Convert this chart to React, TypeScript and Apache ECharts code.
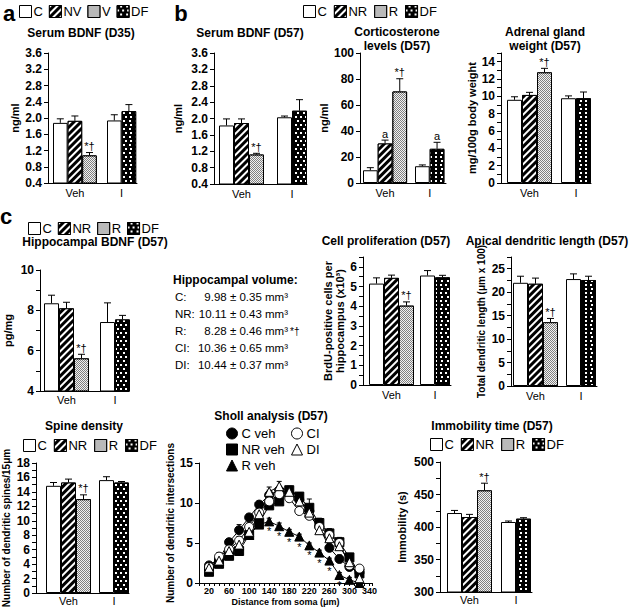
import React, { useEffect, useRef } from 'react';
import * as echarts from 'echarts';

const FONT = "'Liberation Sans', Arial, Helvetica, sans-serif";

// ---------------- categories / legends ----------------
const groupLabels = ['Veh', 'I'];
const legendD35 = ['C', 'NV', 'V', 'DF'];
const legendD57 = ['C', 'NR', 'R', 'DF'];

// Bars ordered: Veh-C, Veh-NR(NV), Veh-R(V), I-C, I-DF
const serumD35Mean = [1.88, 1.93, 1.08, 1.94, 2.17];
const serumD35Sem = [0.1, 0.12, 0.07, 0.14, 0.16];
const serumD35Sig = ['', '', '*†', '', ''];

const serumD57Mean = [1.83, 1.89, 1.12, 2.03, 2.19];
const serumD57Sem = [0.16, 0.1, 0.03, 0.03, 0.27];
const serumD57Sig = ['', '', '*†', '', ''];

const corticoMean = [9.8, 30.4, 70.4, 12.9, 26.3];
const corticoSem = [2.0, 2.6, 9.8, 1.0, 5.0];
const corticoSig = ['', 'a', '*†', '', 'a'];

const adrenalMean = [9.6, 10.16, 12.77, 9.78, 9.78];
const adrenalSem = [0.35, 0.3, 0.46, 0.27, 0.72];
const adrenalSig = ['', '', '*†', '', ''];

const hippBdnfMean = [8.35, 8.1, 5.62, 7.42, 7.55];
const hippBdnfSem = [0.4, 0.3, 0.2, 0.95, 0.2];
const hippBdnfSig = ['', '', '*†', '', ''];

const prolifMean = [5.15, 5.44, 4.03, 5.56, 5.47];
const prolifSem = [0.29, 0.14, 0.19, 0.25, 0.1];
const prolifSig = ['', '', '*†', '', ''];

const apicalMean = [22.0, 21.8, 13.6, 22.8, 22.6];
const apicalSem = [1.4, 1.2, 0.8, 1.1, 0.8];
const apicalSig = ['', '', '*†', '', ''];

const spineMean = [14.84, 15.3, 12.99, 15.63, 15.3];
const spineSem = [0.46, 0.47, 0.6, 0.47, 0.14];
const spineSig = ['', '', '*†', '', ''];

const immobMean = [421.5, 415.4, 456.4, 407.7, 412.8];
const immobSem = [4, 4, 11, 1.5, 1.5];
const immobSig = ['', '', '*†', '', ''];

// Hippocampal volume table
const volLabels = ['C:', 'NR:', 'R:', 'CI:', 'DI:'];
const volMeans = [9.98, 10.11, 8.28, 10.36, 10.44];
const volSems = [0.35, 0.43, 0.46, 0.65, 0.37];
const volSig = ['', '', '*†', '', ''];

// Sholl analysis
const shollDist = [20, 40, 60, 80, 100, 120, 140, 160, 180, 200, 220, 240, 260, 280, 300, 320];
const shollCveh = [2.2, 3.0, 5.1, 6.6, 8.2, 9.8, 11.0, 11.6, 11.2, 10.4, 9.0, 7.0, 4.4, 3.0, 2.0, 1.3];
const shollCvehErr = [0.3, 0.5, 0.4, 0.7, 0.4, 0.4, 0.6, 0.5, 0.5, 0.5, 0.6, 0.5, 0.5, 0.5, 0.5, 0.4];
const shollNRveh = [1.4, 2.4, 3.4, 4.0, 6.0, 7.5, 9.7, 10.2, 11.6, 10.8, 9.4, 7.5, 6.2, 5.1, 3.2, 1.2];
const shollNRvehErr = [0.4, 0.4, 0.4, 0.5, 0.5, 0.5, 0.6, 0.5, 0.5, 0.5, 1.1, 0.6, 0.6, 0.6, 0.5, 0.5];
const shollRveh = [2.0, 2.8, 3.6, 4.6, 6.0, 7.3, 7.7, 7.1, 6.4, 5.8, 4.7, 3.8, 2.8, 1.0, 0.4, 0.0];
const shollRvehErr = [0.3, 0.4, 0.3, 0.4, 0.4, 0.4, 0.4, 0.4, 0.3, 0.3, 0.3, 0.3, 0.3, 0.3, 0.3, 0.2];
const shollRvehSig = ['', '', '', '', '', '', '*', '*', '*', '*', '*', '*', '*', '*', '', ''];
const shollCI = [2.0, 3.3, 4.2, 5.3, 7.0, 8.8, 10.2, 11.1, 10.6, 9.0, 8.4, 7.0, 6.0, 5.0, 2.2, 1.8];
const shollCIErr = [0.3, 0.5, 0.4, 0.5, 0.5, 0.5, 0.6, 0.6, 0.5, 0.5, 0.5, 0.5, 0.5, 0.6, 0.9, 0.4];
const shollDI = [1.9, 2.8, 4.0, 4.8, 6.4, 8.6, 11.4, 12.1, 11.4, 10.2, 8.8, 6.6, 5.6, 4.6, 2.6, 0.6];
const shollDIErr = [0.3, 0.4, 0.4, 0.4, 0.5, 0.5, 0.6, 0.6, 0.5, 0.5, 0.5, 0.6, 0.5, 0.5, 0.5, 0.4];

// ---------------- styles ----------------
const BAR_STYLES: any[] = [
  { color: '#ffffff', borderColor: '#000', borderWidth: 1 },
  {
    color: '#000000', borderColor: '#000', borderWidth: 1,
    decal: { symbol: 'rect', symbolSize: 1, color: '#ffffff', dashArrayX: [1, 0], dashArrayY: [1.8, 2.7], rotation: -Math.PI / 4 },
  },
  {
    color: '#808080', borderColor: '#000', borderWidth: 1,
    decal: { symbol: 'rect', symbolSize: 1, color: '#f2f2f2', dashArrayX: [[1, 1], [0, 1, 1, 0]], dashArrayY: [1, 0] },
  },
  {
    color: '#000000', borderColor: '#000', borderWidth: 1,
    decal: { symbol: 'rect', symbolSize: 1, color: '#ffffff', dashArrayX: [[1.5, 3], [0, 2.25, 1.5, 0.75]], dashArrayY: [1.5, 1.2] },
  },
];

type Lay = { axisX: number; top: number; bottom: number; right: number; vehStart: number; iStart: number; bw: number; xMargin: number };
type BarPanel = {
  names: string[]; mean: number[]; sem: number[]; sig: string[];
  yMin: number; yMax: number; yStep: number; labelStep: number; digits: number;
  yName: string; nameGap: number; nameSize: number; lay: Lay;
};

const barPanels: BarPanel[] = [
  { names: legendD35, mean: serumD35Mean, sem: serumD35Sem, sig: serumD35Sig, yMin: 0.4, yMax: 3.6, yStep: 0.4, labelStep: 0.4, digits: 1,
    yName: 'ng/ml', nameGap: 27, nameSize: 11, lay: { axisX: 48, top: 53, bottom: 183, right: 137, vehStart: 53, iStart: 107, bw: 14.6, xMargin: 4 } },
  { names: legendD57, mean: serumD57Mean, sem: serumD57Sem, sig: serumD57Sig, yMin: 0.4, yMax: 3.6, yStep: 0.4, labelStep: 0.4, digits: 1,
    yName: 'ng/ml', nameGap: 30, nameSize: 11, lay: { axisX: 214, top: 53, bottom: 184, right: 307, vehStart: 219, iStart: 277, bw: 15, xMargin: 4 } },
  { names: legendD57, mean: corticoMean, sem: corticoSem, sig: corticoSig, yMin: 0, yMax: 100, yStep: 20, labelStep: 20, digits: 0,
    yName: 'ng/ml', nameGap: 25, nameSize: 11, lay: { axisX: 360, top: 53, bottom: 183, right: 446, vehStart: 363, iStart: 415, bw: 14.7, xMargin: 4 } },
  { names: legendD57, mean: adrenalMean, sem: adrenalSem, sig: adrenalSig, yMin: 0, yMax: 15, yStep: 1, labelStep: 2, digits: 0,
    yName: 'mg/100g body weight', nameGap: 20, nameSize: 11, lay: { axisX: 501, top: 53, bottom: 183, right: 591, vehStart: 507, iStart: 561, bw: 15, xMargin: 4 } },
  { names: legendD57, mean: hippBdnfMean, sem: hippBdnfSem, sig: hippBdnfSig, yMin: 4, yMax: 10, yStep: 1, labelStep: 2, digits: 0,
    yName: 'pg/mg', nameGap: 26, nameSize: 11, lay: { axisX: 40, top: 270, bottom: 391, right: 129, vehStart: 44, iStart: 100, bw: 15, xMargin: 3 } },
  { names: legendD57, mean: prolifMean, sem: prolifSem, sig: prolifSig, yMin: 0, yMax: 6.5, yStep: 0.5, labelStep: 1, digits: 0,
    yName: 'BrdU-positive cells per\nhippocampus (x10³)', nameGap: 16, nameSize: 11, lay: { axisX: 363, top: 257, bottom: 385, right: 451, vehStart: 369, iStart: 420, bw: 15, xMargin: 4 } },
  { names: legendD57, mean: apicalMean, sem: apicalSem, sig: apicalSig, yMin: 0, yMax: 27.5, yStep: 2.5, labelStep: 5, digits: 0,
    yName: 'Total dendritic length (μm x 100)', nameGap: 21, nameSize: 10, lay: { axisX: 511, top: 257, bottom: 386, right: 597, vehStart: 513, iStart: 566, bw: 15, xMargin: 4 } },
  { names: legendD57, mean: spineMean, sem: spineSem, sig: spineSig, yMin: 0, yMax: 18, yStep: 1, labelStep: 2, digits: 0,
    yName: 'Number of dendritic spines/15μm', nameGap: 18, nameSize: 10, lay: { axisX: 36, top: 463, bottom: 593, right: 129, vehStart: 46, iStart: 99, bw: 15, xMargin: 2 } },
  { names: legendD57, mean: immobMean, sem: immobSem, sig: immobSig, yMin: 300, yMax: 500, yStep: 25, labelStep: 50, digits: 0,
    yName: 'Immobility (s)', nameGap: 32, nameSize: 11, lay: { axisX: 440, top: 462, bottom: 592, right: 532, vehStart: 447, iStart: 501, bw: 15, xMargin: 2 } },
];

const AX_LINE = { show: true, onZero: false, lineStyle: { color: '#000', width: 1 } };

function isMultiple(v: number, step: number) {
  const r = v / step;
  return Math.abs(r - Math.round(r)) < 1e-6;
}

function txt(x: number, y: number, text: string, size: number, bold: boolean, align = 'center') {
  return {
    type: 'text', x, y, silent: true,
    style: {
      text, fill: '#000', font: `${bold ? 'bold ' : ''}${size}px ${FONT}`,
      align, textAlign: align, verticalAlign: 'middle', textVerticalAlign: 'middle',
    },
  };
}

function errorSeries(gi: number, xs: number[], vals: number[], errs: number[], sig: string[], cap: number, sigFont: number, sigBelow = false) {
  return {
    type: 'custom', xAxisIndex: gi, yAxisIndex: gi, z: 3, silent: true, clip: false,
    data: xs.map((x, i) => [x, vals[i], errs[i]]),
    renderItem: (params: any, api: any) => {
      const i = params.dataIndex;
      const x = api.value(0), v = api.value(1), e = api.value(2);
      const a = api.coord([x, v]);
      const b = api.coord([x, v + e]);
      const ls = { stroke: '#000', lineWidth: 1 };
      const children: any[] = [];
      if (e > 0) {
        children.push({ type: 'line', shape: { x1: a[0], y1: a[1], x2: b[0], y2: b[1] }, style: ls });
        children.push({ type: 'line', shape: { x1: b[0] - cap, y1: b[1], x2: b[0] + cap, y2: b[1] }, style: ls });
      }
      if (sig[i]) {
        children.push({
          type: 'text', x: b[0], y: sigBelow ? a[1] + 10 : b[1] - 1,
          style: { text: sig[i], fill: '#000', font: `${sigFont}px ${FONT}`, align: 'center', verticalAlign: sigBelow ? 'middle' : 'bottom' },
        });
      }
      return { type: 'group', children };
    },
  };
}

function buildOption() {
  const grid: any[] = [];
  const xAxis: any[] = [];
  const yAxis: any[] = [];
  const series: any[] = [];

  barPanels.forEach((p) => {
    const gi = grid.length;
    const L = p.lay;
    const W = L.right - L.axisX;
    grid.push({ left: L.axisX, top: L.top, width: W, height: L.bottom - L.top, outerBoundsMode: 'none', containLabel: false });
    const xs = [
      L.vehStart + L.bw * 0.5, L.vehStart + L.bw * 1.5, L.vehStart + L.bw * 2.5,
      L.iStart + L.bw * 0.5, L.iStart + L.bw * 1.5,
    ].map((v) => v - L.axisX);
    const centers = [L.vehStart + L.bw * 1.5 - L.axisX, L.iStart + L.bw - L.axisX];
    xAxis.push({
      gridIndex: gi, type: 'value', min: 0, max: W,
      axisLine: AX_LINE, axisTick: { show: false }, splitLine: { show: false },
      axisLabel: {
        customValues: centers,
        formatter: (v: number) => groupLabels[Math.abs(v - centers[0]) < 0.5 ? 0 : 1],
        color: '#000', fontSize: 11, fontFamily: FONT, margin: L.xMargin,
      },
    });
    yAxis.push({
      gridIndex: gi, type: 'value', min: p.yMin, max: p.yMax, interval: p.yStep,
      axisLine: AX_LINE, axisTick: { show: true, length: 4, lineStyle: { color: '#000' } },
      splitLine: { show: false },
      axisLabel: {
        formatter: (v: number) => (isMultiple(v, p.labelStep) ? v.toFixed(p.digits) : ''),
        color: '#000', fontSize: 12, fontWeight: 'bold', fontFamily: FONT, margin: 6,
      },
      name: p.yName, nameLocation: 'middle', nameRotate: 90, nameGap: p.nameGap,
      nameTextStyle: { color: '#000', fontSize: p.nameSize, fontWeight: 'bold', fontFamily: FONT, lineHeight: 12 },
    });
    const barData = [
      [[xs[0], p.mean[0]], [xs[3], p.mean[3]]],
      [[xs[1], p.mean[1]]],
      [[xs[2], p.mean[2]]],
      [[xs[4], p.mean[4]]],
    ];
    p.names.forEach((nm, k) => {
      series.push({
        type: 'bar', name: nm, xAxisIndex: gi, yAxisIndex: gi, data: barData[k],
        barWidth: L.bw, barGap: '-100%', itemStyle: BAR_STYLES[k], clip: true, z: 2, silent: true,
      });
    });
    series.push(errorSeries(gi, xs, p.mean, p.sem, p.sig, 3.5, 11));
  });

  // ---- Sholl analysis ----
  const sg = grid.length;
  grid.push({ left: 199, top: 463, width: 173, height: 120, outerBoundsMode: 'none', containLabel: false });
  xAxis.push({
    gridIndex: sg, type: 'value', min: 0, max: 345, interval: 10,
    axisLine: AX_LINE, axisTick: { show: true, length: 3, lineStyle: { color: '#000' } }, splitLine: { show: false },
    axisLabel: {
      formatter: (v: number) => (v >= 20 && isMultiple(v - 20, 40) ? String(v) : ''),
      color: '#000', fontSize: 9, fontWeight: 'bold', fontFamily: FONT, margin: 3,
      showMinLabel: true, showMaxLabel: true,
    },
    name: 'Distance from soma (μm)', nameLocation: 'middle', nameGap: 14,
    nameTextStyle: { color: '#000', fontSize: 9, fontWeight: 'bold', fontFamily: FONT },
  });
  yAxis.push({
    gridIndex: sg, type: 'value', min: 0, max: 15, interval: 5,
    axisLine: AX_LINE, axisTick: { show: true, length: 4, lineStyle: { color: '#000' } }, splitLine: { show: false },
    axisLabel: { color: '#000', fontSize: 12, fontWeight: 'bold', fontFamily: FONT, margin: 6 },
    name: 'Number of dendritic intersections', nameLocation: 'middle', nameRotate: 90, nameGap: 21,
    nameTextStyle: { color: '#000', fontSize: 10, fontWeight: 'bold', fontFamily: FONT },
  });
  const shollDefs = [
    { name: 'C veh', vals: shollCveh, err: shollCvehErr, symbol: 'circle', open: false, size: 9 },
    { name: 'NR veh', vals: shollNRveh, err: shollNRvehErr, symbol: 'rect', open: false, size: 9 },
    { name: 'R veh', vals: shollRveh, err: shollRvehErr, symbol: 'triangle', open: false, size: 9 },
    { name: 'CI', vals: shollCI, err: shollCIErr, symbol: 'circle', open: true, size: 9 },
    { name: 'DI', vals: shollDI, err: shollDIErr, symbol: 'triangle', open: true, size: 9 },
  ];
  shollDefs.forEach((d) => {
    series.push(errorSeries(sg, shollDist, d.vals, d.err, d.name === 'R veh' ? shollRvehSig : shollDist.map(() => ''), 2.5, 11, true));
    series.push({
      type: 'line', name: d.name, xAxisIndex: sg, yAxisIndex: sg, z: 4, silent: true,
      data: shollDist.map((x, i) => [x, d.vals[i]]),
      symbol: d.symbol, symbolSize: d.size, showSymbol: true,
      lineStyle: { color: '#000', width: 1 },
      itemStyle: d.open ? { color: '#ffffff', borderColor: '#000', borderWidth: 1 } : { color: '#000', borderColor: '#000', borderWidth: 1 },
    });
  });

  // ---- legends ----
  const barLegend = (left: number, top: number, data: string[], gap = 5) => ({
    left, top, padding: 0, orient: 'horizontal', icon: 'rect', itemWidth: 12, itemHeight: 12, itemGap: gap,
    selectedMode: false,
    textStyle: { fontSize: 13, color: '#000', fontFamily: FONT, padding: [0, 0, 0, -3] },
    itemStyle: { borderColor: '#000', borderWidth: 1 },
    data,
  });
  const shollLegend = (left: number, top: number, data: any[]) => ({
    left, top, padding: 0, orient: 'vertical', itemWidth: 11, itemHeight: 11, itemGap: 3, selectedMode: false,
    textStyle: { fontSize: 13, color: '#000', fontFamily: FONT, padding: [0, 0, 0, -1] },
    itemStyle: { borderColor: '#000', borderWidth: 1 },
    data,
  });
  const legend = [
    barLegend(19, 5, legendD35, 6),
    barLegend(303, 5, legendD57, 7),
    barLegend(28, 222, legendD57, 6),
    barLegend(23, 439, legendD57, 7),
    barLegend(430, 438, legendD57, 7),
    shollLegend(226, 427, [{ name: 'C veh', icon: 'circle' }, { name: 'NR veh', icon: 'rect' }, { name: 'R veh', icon: 'triangle' }]),
    shollLegend(291, 427, [{ name: 'CI', icon: 'circle' }, { name: 'DI', icon: 'triangle' }]),
  ];

  // ---- texts ----
  const elements: any[] = [
    txt(9, 13, 'a', 22, true),
    txt(181, 13, 'b', 22, true),
    txt(6, 216, 'c', 22, true),
    txt(81, 33, 'Serum BDNF (D35)', 12, true),
    txt(250, 33, 'Serum BDNF (D57)', 12, true),
    txt(397, 31.5, 'Corticosterone', 12, true),
    txt(397, 45.5, 'levels (D57)', 12, true),
    txt(545, 31.5, 'Adrenal gland', 12, true),
    txt(545, 45.5, 'weight (D57)', 12, true),
    txt(95, 242, 'Hippocampal BDNF (D57)', 12, true),
    txt(386, 241, 'Cell proliferation (D57)', 12, true),
    txt(547, 241, 'Apical dendritic length (D57)', 12, true),
    txt(84, 426, 'Spine density', 12, true),
    txt(271, 416, 'Sholl analysis (D57)', 12, true),
    txt(492, 426, 'Immobility time (D57)', 12, true),
    txt(173, 280, 'Hippocampal volume:', 12, true, 'left'),
  ];
  volLabels.forEach((lab, i) => {
    const y = 297 + i * 17;
    elements.push(txt(175, y, lab, 11.5, false, 'left'));
    elements.push(txt(288, y, `${volMeans[i].toFixed(2)} ± ${volSems[i].toFixed(2)} mm³`, 11.5, false, 'right'));
    if (volSig[i]) elements.push(txt(290, y, volSig[i], 10, false, 'left'));
  });

  return {
    animation: false,
    backgroundColor: '#ffffff',
    textStyle: { fontFamily: FONT },
    grid, xAxis, yAxis, series, legend,
    graphic: { elements },
  };
}

export default function App() {
  const ref = useRef<HTMLDivElement>(null);
  useEffect(() => {
    document.body.style.margin = '0';
    const chart = echarts.init(ref.current!, undefined, { renderer: 'svg', width: 630, height: 607 });
    chart.setOption(buildOption() as any);
    return () => chart.dispose();
  }, []);
  return <div ref={ref} style={{ width: 630, height: 607, position: 'absolute', left: 0, top: 0, background: '#fff' }} />;
}
